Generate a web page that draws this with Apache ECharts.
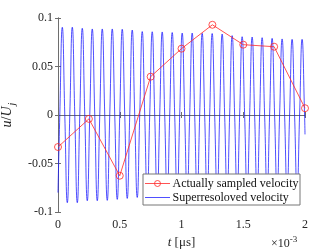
<!DOCTYPE html>
<html>
<head>
<meta charset="utf-8">
<script src="https://cdn.jsdelivr.net/npm/echarts@6/dist/echarts.min.js"></script>
<style>html,body{margin:0;padding:0;background:#fff}#c{width:336px;height:252px}</style>
</head>
<body>
<div id="c"></div>
<script>
// time axis values are in units of 1e-3 (shown with the x10^-3 multiplier)
var xTicks = [0, 0.5, 1, 1.5, 2];
var yTicks = [-0.1, -0.05, 0, 0.05, 0.1];
var legendNames = ['Actually sampled velocity', 'Superresoloved velocity'];

var redT = [0, 0.25, 0.5, 0.75, 1, 1.25, 1.5, 1.75, 2];
var redU = [-0.033, -0.004, -0.0626, 0.0395, 0.0684, 0.093, 0.0725, 0.0704, 0.007];

var blueT = [
  0, 0.0146,
  0.0348, 0.0550, 0.0753, 0.0955,
  0.1157, 0.1359, 0.1562, 0.1764,
  0.1966, 0.2168, 0.2371, 0.2573,
  0.2775, 0.2977, 0.3180, 0.3382,
  0.3584, 0.3786, 0.3989, 0.4191,
  0.4393, 0.4595, 0.4798, 0.5000,
  0.5202, 0.5404, 0.5607, 0.5809,
  0.6011, 0.6213, 0.6416, 0.6618,
  0.6820, 0.7022, 0.7225, 0.7427,
  0.7629, 0.7831, 0.8034, 0.8236,
  0.8438, 0.8640, 0.8843, 0.9045,
  0.9247, 0.9449, 0.9652, 0.9854,
  1.0056, 1.0258, 1.0461, 1.0663,
  1.0865, 1.1067, 1.1270, 1.1472,
  1.1674, 1.1876, 1.2079, 1.2281,
  1.2483, 1.2685, 1.2888, 1.3090,
  1.3292, 1.3494, 1.3697, 1.3899,
  1.4101, 1.4303, 1.4506, 1.4708,
  1.4910, 1.5112, 1.5315, 1.5517,
  1.5719, 1.5921, 1.6124, 1.6326,
  1.6528, 1.6730, 1.6933, 1.7135,
  1.7337, 1.7539, 1.7742, 1.7944,
  1.8146, 1.8348, 1.8551, 1.8753,
  1.8955, 1.9157, 1.9360, 1.9562,
  1.9764, 1.9966, 2.0
];
var blueU = [
  -0.080, 0,
  0.0904, 0, -0.0904, 0,
  0.0905, 0, -0.0904, 0,
  0.0894, 0, -0.0884, 0,
  0.0887, 0, -0.0884, 0,
  0.0887, 0, -0.0880, 0,
  0.0887, 0, -0.0870, 0,
  0.0884, 0, -0.0860, 0,
  0.0876, 0, -0.0850, 0,
  0.0860, 0, -0.0850, 0,
  0.0858, 0, -0.0840, 0,
  0.0856, 0, -0.0840, 0,
  0.0850, 0, -0.0840, 0,
  0.0845, 0, -0.0830, 0,
  0.0845, 0, -0.0830, 0,
  0.0842, 0, -0.0830, 0,
  0.0840, 0, -0.0820, 0,
  0.0835, 0, -0.0820, 0,
  0.0818, 0, -0.0810, 0,
  0.0807, 0, -0.0810, 0,
  0.0804, 0, -0.0800, 0,
  0.0797, 0, -0.0800, 0,
  0.0790, 0, -0.0790, 0,
  0.0784, 0, -0.0790, 0,
  0.0780, 0, -0.0790, 0,
  0.0780, 0, -0.020
];

function pairs(xs, ys) { return xs.map(function (x, i) { return [x, ys[i]]; }); }

var serif = "'Liberation Serif','Times New Roman',serif";
var axisCol = '#6e6e6e';
var txtCol = '#262626';
var blueCol = 'rgba(20,20,255,0.75)';
var redCol = 'rgba(255,40,40,0.8)';

var chart = echarts.init(document.getElementById('c'), null, {renderer: 'canvas'});
chart.setOption({
  animation: false,
  backgroundColor: '#fff',
  grid: {left: 58, right: 31, top: 18, bottom: 40, outerBoundsMode: 'none', containLabel: false},
  xAxis: [{
    type: 'value', min: xTicks[0], max: xTicks[xTicks.length - 1], interval: 0.5, position: 'bottom',
    axisLine: {show: true, lineStyle: {color: axisCol, width: 1}},
    axisTick: {show: true, inside: true, length: 3, lineStyle: {color: axisCol}},
    axisLabel: {color: txtCol, fontFamily: serif, fontSize: 12, margin: 7},
    splitLine: {show: false},
    name: '{i|t} [μs]', nameLocation: 'middle', nameGap: 24,
    nameTextStyle: {color: txtCol, fontFamily: serif, fontSize: 13,
      rich: {i: {fontStyle: 'italic', fontFamily: serif, fontSize: 13, color: txtCol}}}
  }, {
    type: 'value', min: xTicks[0], max: xTicks[xTicks.length - 1], interval: 0.5, position: 'top',
    axisLine: {show: true, lineStyle: {color: axisCol, width: 1}},
    axisTick: {show: true, inside: true, length: 3, lineStyle: {color: axisCol}},
    axisLabel: {show: false}, splitLine: {show: false}
  }],
  yAxis: [{
    type: 'value', min: yTicks[0], max: yTicks[yTicks.length - 1], interval: 0.05, position: 'left',
    axisLine: {show: true, lineStyle: {color: axisCol, width: 1}},
    axisTick: {show: true, inside: true, length: 3, lineStyle: {color: axisCol}},
    axisLabel: {color: txtCol, fontFamily: serif, fontSize: 12, margin: 5},
    splitLine: {show: false},
    name: '{i|u}/{i|U}{sub|j}', nameLocation: 'middle', nameRotate: 90, nameGap: 33,
    nameTextStyle: {color: txtCol, fontFamily: serif, fontSize: 14,
      rich: {
        i: {fontStyle: 'italic', fontFamily: serif, fontSize: 14, color: txtCol},
        sub: {fontStyle: 'italic', fontFamily: serif, fontSize: 10, color: txtCol, padding: [9, 0, 0, 1]}
      }}
  }, {
    type: 'value', min: yTicks[0], max: yTicks[yTicks.length - 1], interval: 0.05, position: 'right',
    axisLine: {show: true, lineStyle: {color: axisCol, width: 1}},
    axisTick: {show: true, inside: true, length: 3, lineStyle: {color: axisCol}},
    axisLabel: {show: false}, splitLine: {show: false}
  }],
  graphic: {
    elements: [{
      type: 'text', left: 271, top: 235, z: 100,
      style: {
        text: '×10{sup|-3}', fill: txtCol, font: '12px ' + serif,
        rich: {sup: {fontSize: 9, fontFamily: serif, fill: txtCol, padding: [0, 0, 8, 0]}}
      }
    },
    {type: 'rect', x: 143, y: 174, z: 100, shape: {x: 0, y: 0, width: 157, height: 31},
      style: {fill: '#fff', stroke: '#777', lineWidth: 1}},
    {type: 'line', x: 143, y: 174, z: 101, shape: {x1: 2, y1: 9.5, x2: 27, y2: 9.5}, style: {stroke: redCol, lineWidth: 1}},
    {type: 'circle', x: 143, y: 174, z: 102, shape: {cx: 14.5, cy: 9.5, r: 3}, style: {fill: 'rgba(255,255,255,0)', stroke: redCol, lineWidth: 1}},
    {type: 'text', x: 172.5, y: 183.5, z: 102, style: {text: legendNames[0], font: '12px ' + serif, fill: '#111', verticalAlign: 'middle'}},
    {type: 'line', x: 143, y: 174, z: 101, shape: {x1: 2, y1: 23.5, x2: 27, y2: 23.5}, style: {stroke: blueCol, lineWidth: 1}},
    {type: 'text', x: 172.5, y: 197.5, z: 102, style: {text: legendNames[1], font: '12px ' + serif, fill: '#111', verticalAlign: 'middle'}}
    ]
  },
  series: [{
    name: legendNames[1], type: 'line', xAxisIndex: 0, yAxisIndex: 0,
    data: pairs(blueT, blueU), smooth: 0.5, symbol: 'none',
    lineStyle: {color: blueCol, width: 1},
    itemStyle: {color: blueCol}, z: 2
  }, {
    name: legendNames[0], type: 'line', xAxisIndex: 0, yAxisIndex: 0,
    data: pairs(redT, redU), symbol: 'circle', symbolSize: 7,
    lineStyle: {color: redCol, width: 1},
    itemStyle: {color: 'rgba(255,255,255,0)', borderColor: redCol, borderWidth: 1}, z: 3
  }]
});
</script>
</body>
</html>
